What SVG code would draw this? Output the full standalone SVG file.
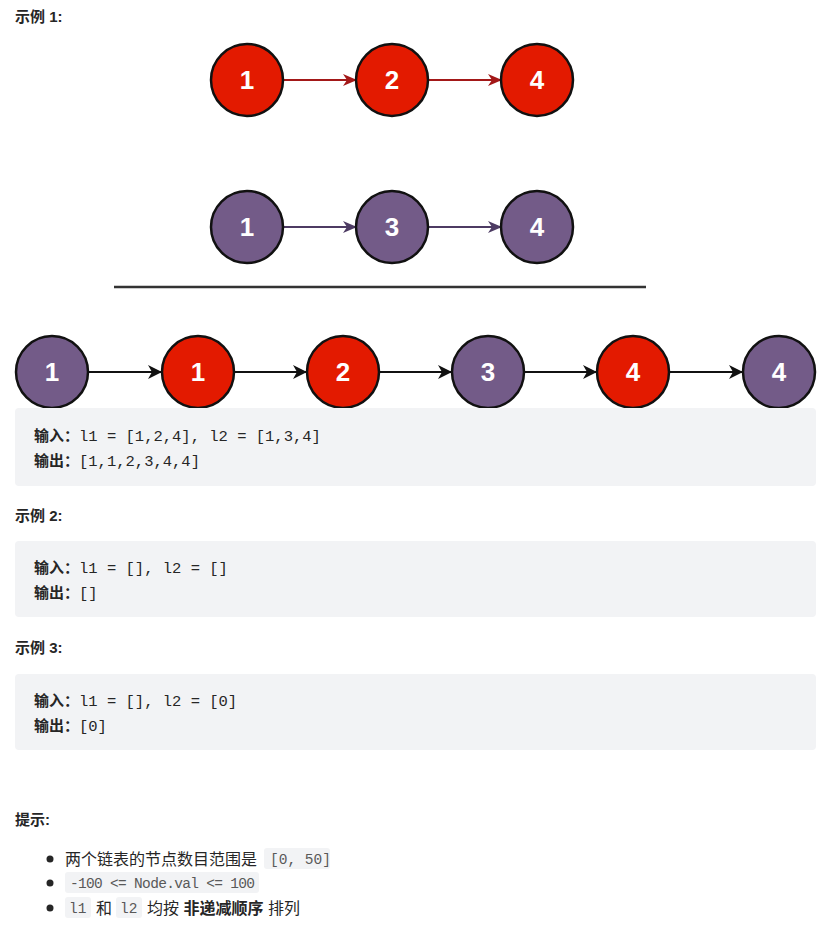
<svg xmlns="http://www.w3.org/2000/svg" width="817" height="942" viewBox="0 0 817 942">
<style>
.r{fill:#e31a00;stroke:#111;stroke-width:2.5}
.p{fill:#735b88;stroke:#111;stroke-width:2.5}
.n{font-family:"Liberation Sans",Arial,sans-serif;font-weight:bold;font-size:26px;fill:#fff;text-anchor:middle}
.h{font-family:"Liberation Sans","Noto Sans CJK SC",sans-serif;font-weight:bold;font-size:15px;fill:#262626}
.t{font-family:"Liberation Sans","Noto Sans CJK SC",sans-serif;font-size:16px;fill:#262626}
.c{font-family:"Liberation Mono","Noto Sans CJK SC",monospace;font-size:15.5px;fill:#262626}
.cb{font-family:"Liberation Sans","Noto Sans CJK SC",sans-serif;font-weight:bold;font-size:15px;fill:#262626}
.box{fill:#f2f3f5}
.ic{font-family:"Liberation Mono",monospace;font-size:14.5px;fill:#595959}
</style>
<defs>
<marker id="ar" markerWidth="14" markerHeight="14" refX="13" refY="7" orient="auto" markerUnits="userSpaceOnUse"><path d="M0,1 L14,7 L0,13 L4,7z" fill="#a31818"/></marker>
<marker id="ap" markerWidth="14" markerHeight="14" refX="13" refY="7" orient="auto" markerUnits="userSpaceOnUse"><path d="M0,1 L14,7 L0,13 L4,7z" fill="#4d3b63"/></marker>
<marker id="ak" markerWidth="14" markerHeight="14" refX="13" refY="7" orient="auto" markerUnits="userSpaceOnUse"><path d="M0,0 L14,7 L0,14 L4,7z" fill="#111"/></marker>
</defs>
<text class="h" x="15" y="22">示例 1:</text>
<g id="connectors">
<line x1="284" y1="80" x2="356" y2="80" stroke="#a31818" stroke-width="2" marker-end="url(#ar)"/>
<line x1="429" y1="80" x2="501" y2="80" stroke="#a31818" stroke-width="2" marker-end="url(#ar)"/>
<line x1="284" y1="227" x2="356" y2="227" stroke="#4d3b63" stroke-width="2" marker-end="url(#ap)"/>
<line x1="429" y1="227" x2="501" y2="227" stroke="#4d3b63" stroke-width="2" marker-end="url(#ap)"/>
<line x1="89" y1="372" x2="161" y2="372" stroke="#111" stroke-width="2" marker-end="url(#ak)"/>
<line x1="235" y1="372" x2="306" y2="372" stroke="#111" stroke-width="2" marker-end="url(#ak)"/>
<line x1="380" y1="372" x2="451" y2="372" stroke="#111" stroke-width="2" marker-end="url(#ak)"/>
<line x1="525" y1="372" x2="596" y2="372" stroke="#111" stroke-width="2" marker-end="url(#ak)"/>
<line x1="670" y1="372" x2="742" y2="372" stroke="#111" stroke-width="2" marker-end="url(#ak)"/>
</g>
<line x1="114" y1="287" x2="646" y2="287" stroke="#333" stroke-width="2.5"/>
<g id="a1"><circle class="r" cx="247" cy="80" r="36"/><text class="n" x="247" y="89">1</text></g>
<g id="a2"><circle class="r" cx="392" cy="80" r="36"/><text class="n" x="392" y="89">2</text></g>
<g id="a4"><circle class="r" cx="537" cy="80" r="36"/><text class="n" x="537" y="89">4</text></g>
<g id="b1"><circle class="p" cx="247" cy="227" r="36"/><text class="n" x="247" y="236">1</text></g>
<g id="b3"><circle class="p" cx="392" cy="227" r="36"/><text class="n" x="392" y="236">3</text></g>
<g id="b4"><circle class="p" cx="537" cy="227" r="36"/><text class="n" x="537" y="236">4</text></g>
<g id="m1"><circle class="p" cx="52" cy="372" r="36"/><text class="n" x="52" y="381">1</text></g>
<g id="m2"><circle class="r" cx="198" cy="372" r="36"/><text class="n" x="198" y="381">1</text></g>
<g id="m3"><circle class="r" cx="343" cy="372" r="36"/><text class="n" x="343" y="381">2</text></g>
<g id="m4"><circle class="p" cx="488" cy="372" r="36"/><text class="n" x="488" y="381">3</text></g>
<g id="m5"><circle class="r" cx="633" cy="372" r="36"/><text class="n" x="633" y="381">4</text></g>
<g id="m6"><circle class="p" cx="779" cy="372" r="36"/><text class="n" x="779" y="381">4</text></g>
<rect class="box" x="15" y="408" width="801" height="78" rx="4"/>
<text x="34" y="441"><tspan class="cb">输入：</tspan><tspan class="c">l1 = [1,2,4], l2 = [1,3,4]</tspan></text>
<text x="34" y="466"><tspan class="cb">输出：</tspan><tspan class="c">[1,1,2,3,4,4]</tspan></text>
<text class="h" x="15" y="521">示例 2:</text>
<rect class="box" x="15" y="541" width="801" height="76" rx="4"/>
<text x="34" y="573"><tspan class="cb">输入：</tspan><tspan class="c">l1 = [], l2 = []</tspan></text>
<text x="34" y="598"><tspan class="cb">输出：</tspan><tspan class="c">[]</tspan></text>
<text class="h" x="15" y="653">示例 3:</text>
<rect class="box" x="15" y="674" width="801" height="76" rx="4"/>
<text x="34" y="706"><tspan class="cb">输入：</tspan><tspan class="c">l1 = [], l2 = [0]</tspan></text>
<text x="34" y="731"><tspan class="cb">输出：</tspan><tspan class="c">[0]</tspan></text>
<text class="h" x="15" y="825">提示:</text>
<circle cx="50" cy="859" r="3.5" fill="#262626"/>
<circle cx="50" cy="883" r="3.5" fill="#262626"/>
<circle cx="50" cy="908" r="3.5" fill="#262626"/>
<text class="t" x="65" y="865">两个链表的节点数目范围是</text>
<rect class="box" x="264" y="848" width="66" height="21" rx="3"/>
<text class="ic" x="270" y="864">[0, 50]</text>
<rect class="box" x="65" y="872" width="194" height="21" rx="3"/>
<text class="ic" x="70" y="888" textLength="185">-100 &lt;= Node.val &lt;= 100</text>
<rect class="box" x="65" y="897" width="26" height="21" rx="3"/>
<text class="ic" x="69" y="913">l1</text>
<text class="t" x="96" y="914">和</text>
<rect class="box" x="116" y="897" width="26" height="21" rx="3"/>
<text class="ic" x="120" y="913">l2</text>
<text class="t" x="147" y="914">均按 <tspan font-weight="bold">非递减顺序</tspan> 排列</text>
</svg>
